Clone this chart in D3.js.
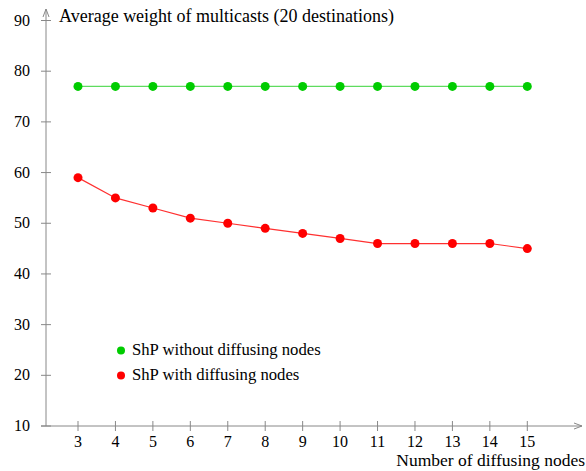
<!DOCTYPE html>
<html>
<head>
<meta charset="utf-8">
<script src="https://cdn.jsdelivr.net/npm/d3@7"></script>
<style>
  body { margin: 0; background: #fff; }
  text { font-family: "Liberation Serif", "DejaVu Serif", serif; fill: #000; }
</style>
</head>
<body>
<script>
// data
var nodes = [3, 4, 5, 6, 7, 8, 9, 10, 11, 12, 13, 14, 15];
var withoutDiffusing = [77, 77, 77, 77, 77, 77, 77, 77, 77, 77, 77, 77, 77];
var withDiffusing = [59, 55, 53, 51, 50, 49, 48, 47, 46, 46, 46, 46, 45];
var yTicks = [10, 20, 30, 40, 50, 60, 70, 80, 90];
var seriesNames = ["ShP without diffusing nodes", "ShP with diffusing nodes"];

var svgWidth = 586;
var svgHeight = 471;

var svg = d3.select("body")
  .append("svg")
  .attr("width", svgWidth)
  .attr("height", svgHeight);

var x = d3.scaleLinear().domain([3, 15]).range([78, 527.3]);
var y = d3.scaleLinear().domain([10, 90]).range([426, 20.5]);

var axisColor = "#888";

// y axis line with arrow
svg.append("line")
  .attr("x1", 46).attr("x2", 46)
  .attr("y1", y(10)).attr("y2", 9)
  .attr("stroke", axisColor).attr("stroke-width", 1);
svg.append("path")
  .attr("d", "M43,17 L46,9 L49,17")
  .attr("fill", "none").attr("stroke", axisColor);

// x axis line with arrow
svg.append("line")
  .attr("x1", 41).attr("x2", 582)
  .attr("y1", y(10)).attr("y2", y(10))
  .attr("stroke", axisColor);
svg.append("path")
  .attr("d", "M574," + (y(10) - 3) + " L582," + y(10) + " L574," + (y(10) + 3))
  .attr("fill", "none").attr("stroke", axisColor);

// y ticks
var yt = svg.append("g");
yt.selectAll("line").data(yTicks).enter().append("line")
  .attr("x1", 41).attr("x2", 51)
  .attr("y1", d => y(d)).attr("y2", d => y(d))
  .attr("stroke", axisColor);
yt.selectAll("text").data(yTicks).enter().append("text")
  .attr("x", 30).attr("y", d => y(d) + 5)
  .attr("text-anchor", "end")
  .style("font-size", "16px")
  .text(d => d);

// x ticks
var xt = svg.append("g");
xt.selectAll("line").data(nodes).enter().append("line")
  .attr("x1", d => x(d)).attr("x2", d => x(d))
  .attr("y1", y(10) - 5).attr("y2", y(10) + 5)
  .attr("stroke", axisColor);
xt.selectAll("text").data(nodes).enter().append("text")
  .attr("x", d => x(d)).attr("y", 447)
  .attr("text-anchor", "middle")
  .style("font-size", "16px")
  .text(d => d);

// titles
svg.append("text")
  .attr("x", 59).attr("y", 22)
  .style("font-size", "18px")
  .text("Average weight of multicasts (20 destinations)");
svg.append("text")
  .attr("x", 585).attr("y", 466)
  .attr("text-anchor", "end")
  .style("font-size", "17.5px")
  .text("Number of diffusing nodes");

var line = d3.line().x(d => x(d[0])).y(d => y(d[1]));

function drawSeries(values, lineColor, dotColor) {
  var pts = nodes.map((n, i) => [n, values[i]]);
  svg.append("path")
    .datum(pts)
    .attr("d", line)
    .attr("fill", "none")
    .attr("stroke", lineColor)
    .attr("stroke-width", 1.2);
  svg.append("g").selectAll("circle").data(pts).enter().append("circle")
    .attr("cx", d => x(d[0])).attr("cy", d => y(d[1]))
    .attr("r", 4.5)
    .attr("fill", dotColor);
}

drawSeries(withoutDiffusing, "#5fdc5f", "#00cc00");
drawSeries(withDiffusing, "#ff3030", "#ff0000");

// legend
var legendColors = ["#00cc00", "#ff0000"];
var legend = svg.append("g");
legend.selectAll("circle").data(seriesNames).enter().append("circle")
  .attr("cx", 121).attr("cy", (d, i) => 350.5 + i * 25)
  .attr("r", 4)
  .attr("fill", (d, i) => legendColors[i]);
legend.selectAll("text").data(seriesNames).enter().append("text")
  .attr("x", 132).attr("y", (d, i) => 355 + i * 25)
  .style("font-size", "16.7px")
  .text(d => d);
</script>
</body>
</html>
